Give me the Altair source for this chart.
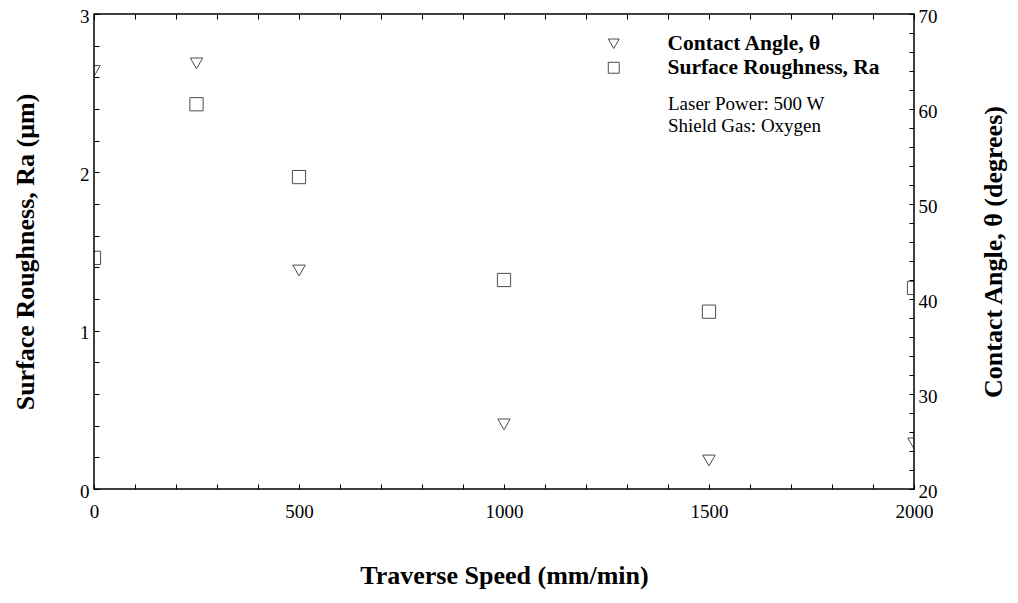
import altair as alt
import pandas as pd

# ---- data ----
speed = [0, 250, 500, 1000, 1500, 2000]
contact_angle = [64.0, 64.8, 43.0, 26.8, 23.0, 24.8]
roughness = [1.46, 2.43, 1.97, 1.32, 1.12, 1.27]

series_names = ["Contact Angle, θ", "Surface Roughness, Ra"]
notes = ["Laser Power: 500 W", "Shield Gas: Oxygen"]

x_ticks = [0, 100, 200, 300, 400, 500, 600, 700, 800, 900, 1000,
           1100, 1200, 1300, 1400, 1500, 1600, 1700, 1800, 1900, 2000]
ra_ticks = [0.0, 0.2, 0.4, 0.6, 0.8, 1.0, 1.2, 1.4, 1.6, 1.8, 2.0,
            2.2, 2.4, 2.6, 2.8, 3.0]
angle_ticks = [20, 22, 24, 26, 28, 30, 32, 34, 36, 38, 40, 42, 44, 46, 48,
               50, 52, 54, 56, 58, 60, 62, 64, 66, 68, 70]

FONT = "Liberation Serif"
W, H = 820, 475

tri_df = pd.DataFrame({"speed": speed, "value": contact_angle,
                       "series": [series_names[0]] * len(speed)})
sq_df = pd.DataFrame({"speed": speed, "value": roughness,
                      "series": [series_names[1]] * len(speed)})
note_df = pd.DataFrame({"k": [0]})

x_scale = alt.Scale(domain=[0, 2000], nice=False, zero=False)
shape_scale = alt.Scale(domain=series_names, range=["triangle-down", "square"])

legend = alt.Legend(
    title=None, orient="none", legendX=509, legendY=19, padding=0,
    labelFont=FONT, labelFontSize=21.5, labelFontWeight="bold", labelColor="black",
    labelLimit=500,
    symbolSize=120, symbolStrokeColor="black", symbolStrokeWidth=1,
    labelOffset=43, rowPadding=1,
)

tick_common = dict(tickSize=5, offset=-5, tickColor="black", tickWidth=1,
                   domain=False, grid=False, labelOverlap=False, labelBound=False,
                   labelFlush=False,
                   labelFont=FONT, labelFontSize=19, labelColor="black",
                   titleFont=FONT, titleFontSize=26, titleFontWeight="bold",
                   titleColor="black")

x_bottom = alt.Axis(
    values=x_ticks, orient="bottom",
    labelExpr="datum.value % 500 == 0 ? format(datum.value, 'd') : ''",
    labelPadding=13,
    title="Traverse Speed (mm/min)", titleX=W / 2, titleY=91,
    titleBaseline="middle", titleAlign="center",
    **tick_common,
)
x_top = alt.Axis(values=x_ticks, orient="top", labels=False, title=None, **tick_common)

y_left = alt.Axis(
    values=ra_ticks, orient="left",
    labelExpr="abs(datum.value - round(datum.value)) < 0.001 ? format(datum.value, 'd') : ''",
    labelPadding=5, labelOffset=2,
    title="Surface Roughness, Ra (μm)", titleX=-74, titleY=H / 2, titleAngle=270,
    titleBaseline="middle", titleAlign="center",
    **tick_common,
)
y_right = alt.Axis(
    values=angle_ticks, orient="right",
    labelExpr="datum.value % 10 == 0 ? format(datum.value, 'd') : ''",
    labelPadding=4, labelOffset=2,
    title="Contact Angle, θ (degrees)", titleX=84, titleY=H / 2, titleAngle=270,
    titleBaseline="middle", titleAlign="center",
    **tick_common,
)

squares = alt.Chart(sq_df).mark_point(
    filled=False, color="black", size=175, strokeWidth=1, clip=True
).encode(
    x=alt.X("speed:Q", scale=x_scale, axis=x_bottom),
    y=alt.Y("value:Q", scale=alt.Scale(domain=[0, 3], nice=False, zero=False), axis=y_left),
    shape=alt.Shape("series:N", scale=shape_scale, legend=legend),
)

triangles = alt.Chart(tri_df).mark_point(
    filled=False, color="black", size=155, strokeWidth=1, clip=True
).encode(
    x=alt.X("speed:Q", scale=x_scale, axis=x_top),
    y=alt.Y("value:Q", scale=alt.Scale(domain=[20, 70], nice=False, zero=False), axis=y_right),
    shape=alt.Shape("series:N", scale=shape_scale, legend=legend),
)

note_text = alt.Chart(note_df).mark_text(
    font=FONT, fontSize=19, color="black", align="left", baseline="middle",
    lineHeight=22,
).encode(
    x=alt.value(574), y=alt.value(90), text=alt.value(notes),
)

chart = alt.layer(triangles, squares, note_text).resolve_scale(
    y="independent"
).resolve_axis(
    x="independent", y="independent"
).properties(
    width=W, height=H,
    background="white",
    autosize=alt.AutoSizeParams(type="none"),
    padding={"left": 86, "top": 6, "right": 96, "bottom": 106},
).configure_view(
    stroke="black", strokeWidth=1.5
)

chart.save("out.html", embed_options={"renderer": "svg", "actions": False})
